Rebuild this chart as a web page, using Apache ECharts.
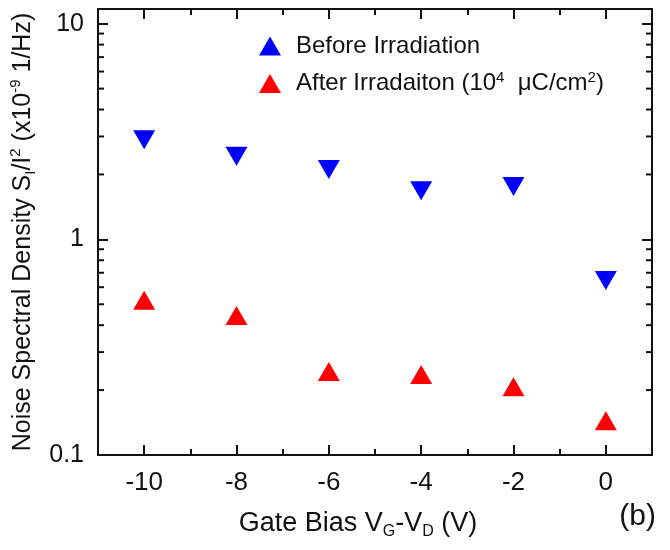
<!DOCTYPE html>
<html>
<head>
<meta charset="utf-8">
<script src="https://cdn.jsdelivr.net/npm/echarts@6/dist/echarts.min.js"></script>
<style>
  html, body { margin: 0; padding: 0; background: #fff; }
  #chart { width: 670px; height: 550px; }
</style>
</head>
<body>
<div id="chart"></div>
<script>
  // gate bias values (V)
  const gateBias = [-10, -8, -6, -4, -2, 0];
  // noise spectral density, x1e-9 1/Hz
  const beforeIrr = [2.9, 2.43, 2.11, 1.68, 1.76, 0.644];
  const afterIrr = [0.522, 0.444, 0.244, 0.236, 0.207, 0.144];
  // log minor tick values on the y axis
  const yMinorTicks = [0.2, 0.3, 0.4, 0.5, 0.6, 0.7, 0.8, 0.9, 2, 3, 4, 5, 6, 7, 8, 9];

  const font = '"Liberation Sans", Arial, sans-serif';
  const axisColor = '#111';
  const txt = '#111';

  const chart = echarts.init(document.getElementById('chart'));

  // fresh option objects per axis so nothing is shared between them
  function xAxisOpt(position) {
    return {
      type: 'value',
      position: position,
      min: -11,
      max: 1,
      splitLine: { show: false },
      axisLine: { show: true, onZero: false, lineStyle: { color: axisColor, width: 2 } },
      axisTick: { show: true, inside: true, length: 10, lineStyle: { color: axisColor, width: 2 } },
      minorTick: { show: true, splitNumber: 2, length: 6, lineStyle: { color: axisColor, width: 2 } },
      axisLabel: { show: false },
    };
  }

  function yAxisOpt(position) {
    return {
      type: 'log',
      position: position,
      min: 0.1,
      max: 11.7,
      splitLine: { show: false },
      axisLine: { show: true, onZero: false, lineStyle: { color: axisColor, width: 2 } },
      axisTick: { show: true, inside: true, length: 10, lineStyle: { color: axisColor, width: 2 } },
      axisLabel: { show: false },
    };
  }

  const xBottom = xAxisOpt('bottom');
  xBottom.name = '{t|Gate Bias V}{sub|G}{t|-V}{sub|D}{t| (V)}';
  xBottom.nameLocation = 'middle';
  xBottom.nameGap = 53;
  xBottom.nameTextStyle = {
    padding: [0, 34, 0, 0],
    rich: {
      t: { fontSize: 27, color: txt, fontFamily: font, lineHeight: 32 },
      sub: { fontSize: 16, color: txt, fontFamily: font, verticalAlign: 'bottom', lineHeight: 32 },
    },
  };
  xBottom.axisLabel = {
    show: true, fontSize: 26, color: txt, fontFamily: font, margin: 15,
    showMinLabel: false, showMaxLabel: false,
  };

  const yLeft = yAxisOpt('left');
  yLeft.name = '{t|Noise Spectral Density S}{sub|I}{t|/I}{sup|2}{t| (x10}{sup|-9}{t| 1/Hz)}';
  yLeft.nameLocation = 'middle';
  yLeft.nameGap = 55;
  yLeft.nameTextStyle = {
    rich: {
      t: { fontSize: 25, color: txt, fontFamily: font, lineHeight: 30 },
      sub: { fontSize: 15, color: txt, fontFamily: font, verticalAlign: 'bottom', lineHeight: 30 },
      sup: { fontSize: 15, color: txt, fontFamily: font, verticalAlign: 'top', lineHeight: 30 },
    },
  };
  yLeft.axisLabel = { show: true, fontSize: 25, color: txt, fontFamily: font, margin: 14, showMaxLabel: false };

  chart.setOption({
    animation: false,
    grid: { left: 98, right: 18, top: 9, bottom: 95 },
    legend: {
      data: [
        { name: 'Before Irradiation', icon: 'triangle', symbolRotate: 180 },
        { name: 'After Irradaiton', icon: 'triangle' },
      ],
      orient: 'vertical',
      left: 254,
      top: 29,
      itemGap: 12,
      itemWidth: 22,
      itemHeight: 19,
      textStyle: {
        fontSize: 24,
        color: txt,
        fontFamily: font,
        padding: [0, 0, 0, 10],
        rich: {
          t: { fontSize: 24, color: txt, fontFamily: font, lineHeight: 27 },
          sup: { fontSize: 15, color: txt, fontFamily: font, verticalAlign: 'top', lineHeight: 27 },
        },
      },
      formatter: (name) => name === 'After Irradaiton'
        ? '{t|After Irradaiton (10}{sup|4}{t|  \u03bcC/cm}{sup|2}{t|)}'
        : '{t|' + name + '}',
    },
    xAxis: [xBottom, xAxisOpt('top')],
    yAxis: [yLeft, yAxisOpt('right')],
    graphic: [
      {
        type: 'text',
        right: 14,
        top: 502,
        style: { text: '(b)', fontSize: 30, fill: txt, fontFamily: font },
      },
    ],
    series: [
      {
        name: 'Before Irradiation',
        type: 'scatter',
        symbol: 'triangle',
        symbolRotate: 180,
        symbolSize: [22, 19],
        itemStyle: { color: '#0000ff', opacity: 1 },
        data: gateBias.map((x, i) => [x, beforeIrr[i]]),
      },
      {
        name: 'After Irradaiton',
        type: 'scatter',
        symbol: 'triangle',
        symbolSize: [22, 19],
        itemStyle: { color: '#ff0000', opacity: 1 },
        data: gateBias.map((x, i) => [x, afterIrr[i]]),
      },
      {
        // minor log ticks, drawn on both the left and right frame
        type: 'custom',
        z: 10,
        renderItem(params, api) {
          const y = api.coord([-5, api.value(1)])[1];
          const cs = params.coordSys;
          const style = { stroke: axisColor, lineWidth: 2 };
          return {
            type: 'group',
            children: [
              { type: 'line', shape: { x1: cs.x, y1: y, x2: cs.x + 6, y2: y }, style: style },
              { type: 'line', shape: { x1: cs.x + cs.width - 6, y1: y, x2: cs.x + cs.width, y2: y }, style: style },
            ],
          };
        },
        data: yMinorTicks.map(v => [-5, v]),
      },
    ],
  });
</script>
</body>
</html>
